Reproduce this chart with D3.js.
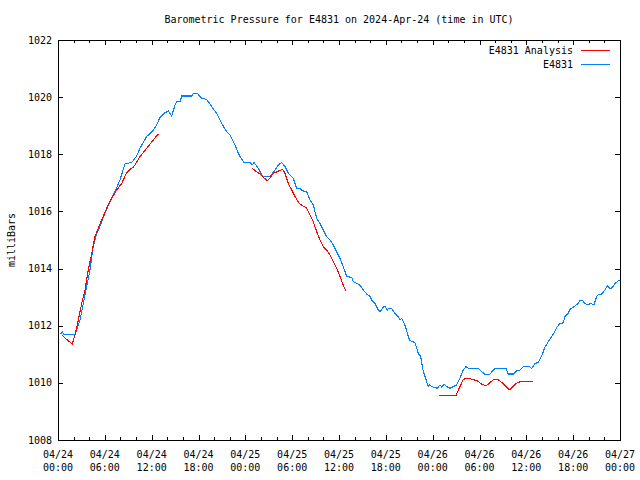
<!DOCTYPE html>
<html>
<head>
<meta charset="utf-8">
<script src="https://cdn.jsdelivr.net/npm/d3@7"></script>
<style>
  html, body { margin: 0; padding: 0; background: #fff; }
  svg { display: block; }
  text { font-family: "DejaVu Sans Mono", "Liberation Mono", monospace; font-size: 10px; fill: #000; }
</style>
</head>
<body>
<div id="chart"></div>
<script>
// ---- Data (hours since 2024-04-24 00:00 UTC, pressure in mb) ----
const titleText = "Barometric Pressure for E4831 on 2024-Apr-24 (time in UTC)";
const yLabel = "milliBars";
const seriesNames = ["E4831 Analysis", "E4831"];
const yTicks = [1008, 1010, 1012, 1014, 1016, 1018, 1020, 1022];

const obsHours = [0.3,0.55,0.75,2.2,2.82,3.67,4.1,4.5,4.93,5.35,6.0,6.66,7.3,7.94,8.6,8.8,9.44,10.08,10.5,11.36,12.21,12.64,13.07,13.71,14.13,14.57,14.99,15.2,15.63,15.85,17.13,17.33,17.85,18.41,19.05,19.69,20.33,20.97,21.61,22.03,22.67,23.1,23.32,23.83,24.6,24.94,25.11,25.66,26.1,26.3,27.16,27.8,28.22,28.66,29.08,29.5,30.14,30.58,31.0,31.22,31.86,32.28,32.71,32.92,33.14,33.56,33.99,34.42,34.85,35.27,35.7,36.13,36.55,36.98,37.63,37.83,38.27,38.69,39.11,39.55,39.97,40.19,40.61,41.03,41.25,41.67,41.89,42.19,42.31,42.75,43.17,43.6,43.81,44.03,44.45,44.88,45.09,45.73,46.16,46.46,46.8,47.02,47.23,47.44,47.57,47.87,48.59,48.94,49.16,49.45,49.8,50.22,50.64,51.08,51.5,51.92,52.27,52.56,53.84,54.28,54.7,55.34,55.77,55.98,57.39,57.69,58.33,58.76,59.18,59.61,60.38,60.68,61.11,61.53,61.97,62.39,62.81,63.45,63.89,64.31,64.73,64.95,65.37,65.59,66.23,66.65,66.87,67.22,67.51,67.93,68.24,68.67,69.01,69.22,69.65,70.07,70.37,70.71,70.93,71.36,71.78,72.0];
const obsValues = [1011.70,1011.78,1011.70,1011.70,1012.2,1013.37,1013.95,1014.77,1015.2,1015.47,1015.93,1016.34,1016.69,1017.1,1017.68,1017.68,1017.71,1017.94,1018.21,1018.62,1018.85,1019.03,1019.29,1019.46,1019.51,1019.34,1019.72,1019.84,1019.84,1020.04,1020.04,1020.13,1020.13,1019.96,1019.92,1019.67,1019.43,1019.08,1018.79,1018.68,1018.33,1018.03,1017.92,1017.72,1017.72,1017.63,1017.71,1017.51,1017.28,1017.22,1017.22,1017.45,1017.63,1017.71,1017.57,1017.34,1017.16,1016.81,1016.81,1016.73,1016.69,1016.4,1016.23,1015.99,1015.76,1015.58,1015.35,1015.12,1015.0,1014.83,1014.59,1014.36,1014.07,1013.72,1013.69,1013.54,1013.48,1013.42,1013.25,1013.11,1013.02,1012.9,1012.78,1012.55,1012.49,1012.64,1012.69,1012.55,1012.61,1012.61,1012.43,1012.32,1012.2,1012.26,1012.02,1011.62,1011.48,1011.41,1011.03,1010.92,1010.4,1010.22,1010.04,1009.87,1009.93,1009.87,1009.81,1009.93,1009.85,1009.96,1009.87,1009.81,1009.87,1009.93,1010.16,1010.45,1010.57,1010.51,1010.51,1010.39,1010.3,1010.3,1010.45,1010.51,1010.51,1010.31,1010.31,1010.43,1010.45,1010.57,1010.57,1010.51,1010.68,1010.71,1010.95,1011.25,1011.44,1011.7,1011.94,1012.08,1012.1,1012.32,1012.43,1012.57,1012.69,1012.78,1012.88,1012.88,1012.78,1012.73,1012.78,1012.73,1013.02,1013.08,1013.11,1013.25,1013.39,1013.31,1013.31,1013.48,1013.57,1013.57];

// analysis: three runs, separated by null
const anaHours = [0.47,1.11,1.83,2.18,2.6,3.04,3.46,3.88,4.32,4.74,5.16,5.6,6.24,6.88,7.52,8.16,8.8,9.22,9.65,9.86,10.5,11.36,12.21,12.85,
  null,
  24.89,25.24,25.88,26.3,26.81,27.25,27.58,28.22,28.79,29.08,29.5,29.94,30.36,30.91,31.42,31.86,32.28,32.71,33.14,33.56,33.99,34.42,34.85,35.27,35.7,36.13,36.55,36.86,
  null,
  48.85,50.99,51.5,51.92,52.43,53.0,53.64,54.28,54.83,55.34,55.85,56.41,57.05,57.48,57.9,58.33,58.84,59.4,60.89];
const anaValues = [1011.68,1011.52,1011.36,1011.68,1012.2,1012.78,1013.25,1013.95,1014.53,1015.12,1015.41,1015.7,1016.11,1016.46,1016.75,1016.98,1017.36,1017.47,1017.55,1017.63,1017.92,1018.21,1018.5,1018.71,
  null,
  1017.51,1017.43,1017.31,1017.2,1017.07,1017.2,1017.33,1017.41,1017.47,1017.33,1016.98,1016.75,1016.52,1016.28,1016.19,1016.11,1015.88,1015.64,1015.29,1015.0,1014.77,1014.65,1014.48,1014.24,1014.01,1013.72,1013.42,1013.23,
  null,
  1009.56,1009.56,1009.87,1010.12,1010.16,1010.13,1010.08,1009.96,1009.89,1010.01,1010.12,1010.1,1009.98,1009.84,1009.75,1009.89,1010.01,1010.05,1010.05];

// ---- Layout ----
const W = 640, H = 480;
const pL = 58, pR = 620, pT = 40, pB = 440;
const t0 = Date.UTC(2024, 3, 24, 0, 0);
const t1 = Date.UTC(2024, 3, 27, 0, 0);
const toDate = h => new Date(t0 + h * 3600e3);

const x = d3.scaleUtc().domain([new Date(t0), new Date(t1)]).range([pL, pR]);
const y = d3.scaleLinear().domain([1008, 1022]).range([pB, pT]);

const svg = d3.select("#chart").append("svg").attr("width", W).attr("height", H);

// ticks
const majorT = x.ticks(d3.utcHour.every(6));
const minorT = x.ticks(d3.utcHour.every(2)).filter(d => d.getUTCHours() % 6 !== 0);
const gT = svg.append("g").attr("stroke", "#000").attr("stroke-width", 1).attr("shape-rendering", "crispEdges");
majorT.forEach(d => {
  const xx = Math.round(x(d)) + 0.5;
  gT.append("line").attr("x1", xx).attr("x2", xx).attr("y1", pB).attr("y2", pB - 5);
  gT.append("line").attr("x1", xx).attr("x2", xx).attr("y1", pT).attr("y2", pT + 5);
});
minorT.forEach(d => {
  const xx = Math.round(x(d)) + 0.5;
  gT.append("line").attr("x1", xx).attr("x2", xx).attr("y1", pB).attr("y2", pB - 3);
  gT.append("line").attr("x1", xx).attr("x2", xx).attr("y1", pT).attr("y2", pT + 3);
});
yTicks.forEach(v => {
  const yy = Math.round(y(v)) + 0.5;
  gT.append("line").attr("x1", pL).attr("x2", pL + 5).attr("y1", yy).attr("y2", yy);
  gT.append("line").attr("x1", pR).attr("x2", pR - 5).attr("y1", yy).attr("y2", yy);
});

// tick labels
const fmtDate = d3.utcFormat("%m/%d"), fmtTime = d3.utcFormat("%H:%M");
majorT.forEach(d => {
  const t = svg.append("text").attr("text-anchor", "middle");
  t.append("tspan").attr("x", x(d)).attr("y", 458).text(fmtDate(d));
  t.append("tspan").attr("x", x(d)).attr("y", 471).text(fmtTime(d));
});
yTicks.forEach(v => {
  svg.append("text").attr("x", 52).attr("y", y(v)).attr("dy", "0.35em")
    .attr("text-anchor", "end").text(v);
});

// y label
svg.append("text").attr("transform", `translate(15,${(pT + pB) / 2}) rotate(-90)`)
  .attr("text-anchor", "middle").text(yLabel);

// title
svg.append("text").attr("x", (pL + pR) / 2).attr("y", 23).attr("text-anchor", "middle").text(titleText);

// lines
const lineGen = d3.line()
  .defined(d => d[1] !== null)
  .x(d => x(toDate(d[0])))
  .y(d => y(d[1]));

const obs = obsHours.map((h, i) => [h, obsValues[i]]);
const ana = anaHours.map((h, i) => [h, anaValues[i]]);

svg.append("path").datum(obs).attr("d", lineGen)
  .attr("fill", "none").attr("stroke", "#0080ff").attr("stroke-width", 1.1)
  .attr("shape-rendering", "crispEdges");
svg.append("path").datum(ana).attr("d", lineGen)
  .attr("fill", "none").attr("stroke", "#ff0000").attr("stroke-width", 1.1)
  .attr("shape-rendering", "crispEdges");

// frame
svg.append("rect").attr("x", pL + 0.5).attr("y", pT + 0.5)
  .attr("width", pR - pL).attr("height", pB - pT)
  .attr("fill", "none").attr("stroke", "#000").attr("stroke-width", 1)
  .attr("shape-rendering", "crispEdges");

// legend
const legColors = ["#ff0000", "#0080ff"];
seriesNames.forEach((n, i) => {
  const ly = 50 + i * 14;
  svg.append("text").attr("x", 573).attr("y", ly).attr("dy", "0.35em").attr("text-anchor", "end").text(n);
  svg.append("line").attr("x1", 581).attr("x2", 610).attr("y1", ly + 0.5).attr("y2", ly + 0.5)
    .attr("stroke", legColors[i]).attr("stroke-width", 1).attr("shape-rendering", "crispEdges");
});
</script>
</body>
</html>
